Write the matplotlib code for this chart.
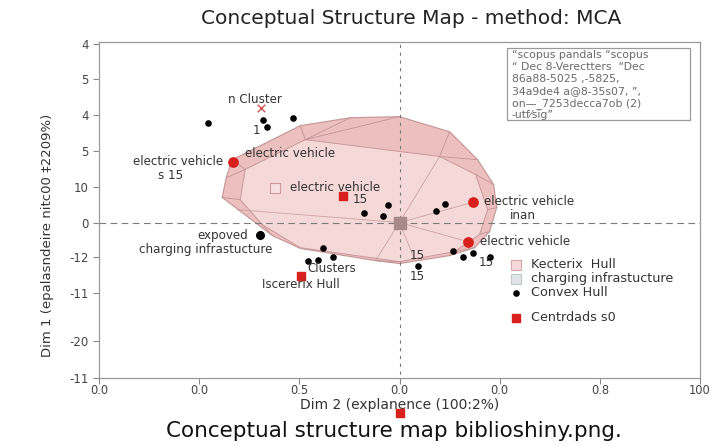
import matplotlib
matplotlib.use("Agg")
import matplotlib.pyplot as plt
from matplotlib.patches import Polygon, Rectangle

plt.rcParams["font.family"] = ["DejaVu Sans"]

# ---- axis ticks -------------------------------------------------------------
x_tick_pos = [-3, -2, -1, 0, 1, 2, 3]
x_tick_labels = ["0.0", "0.0", "0.5", "0.0", "0.0", "0.8", "100"]
y_tick_pos = [4.97, 4.0, 3.0, 2.0, 1.0, 0.0, -0.97, -1.97, -3.31, -4.33]
y_tick_labels = ["4", "5", "4", "5", "10", "0", "-12", "-11", "-20", "-11"]

# ---- documents (black points) -----------------------------------------------
doc_x = [-1.91, -1.36, -1.32, -1.06, -0.11, -0.35, -0.16, 0.45, 0.36,
         -0.76, -0.91, -0.81, -0.66, 0.18, 0.53, 0.63, 0.73, 0.90]
doc_y = [2.76, 2.87, 2.65, 2.92, 0.50, 0.28, 0.19, 0.53, 0.31,
         -0.72, -1.06, -1.03, -0.95, -1.20, -0.78, -0.95, -0.86, -0.95]
big_doc_x = [-1.39]
big_doc_y = [-0.36]

# ---- highlighted terms (red circles) and centroids (red squares) -------------
term_x = [-1.66, 0.73, 0.68]
term_y = [1.70, 0.56, -0.53]
centroid_x = [-0.56, -0.98]
centroid_y = [0.75, -1.50]
cluster_mark_x = [-1.38]
cluster_mark_y = [3.18]

# ---- convex hull of the cluster -----------------------------------------------
hull_outer_x = [-1.67, -0.99, -0.49, 0.00, 0.50, 0.78, 0.94, 0.97, 0.90,
                0.75, 0.50, 0.00, -0.24, -0.99, -1.27, -1.77, -1.73]
hull_outer_y = [1.75, 2.70, 2.92, 2.95, 2.53, 1.75, 1.06, 0.42, -0.25,
                -0.70, -0.92, -1.14, -1.06, -0.72, -0.36, 0.70, 1.25]
hull_inner_x = [-1.54, -0.94, 0.40, 0.76, 0.88, 0.80, 0.55, 0.00, -0.99,
                -1.37, -1.59]
hull_inner_y = [1.48, 2.31, 1.84, 1.34, 0.36, -0.33, -0.81, -1.09, -0.70,
                -0.06, 0.64]
facet_ends_x = [-1.62, -0.24, 0.14, 0.73, 0.68, 0.40]
facet_ends_y = [0.36, -1.06, -0.95, 0.56, -0.53, 1.84]

# ---- point labels --------------------------------------------------------------
labels = [
    ("n Cluster", -1.44, 3.43, "center"),
    ("1", -1.43, 2.56, "center"),
    ("electric vehicle", -1.76, 1.71, "right"),
    ("s 15", -2.29, 1.31, "center"),
    ("electric vehicle", -1.54, 1.92, "left"),
    ("electric vehicle", -1.09, 0.97, "left"),
    ("15", -0.47, 0.64, "left"),
    ("expoved", -1.51, -0.36, "right"),
    ("charging infrastucture", -1.27, -0.74, "right"),
    ("Clusters", -0.92, -1.28, "left"),
    ("Iscererix Hull", -1.37, -1.73, "left"),
    ("15", 0.18, -0.92, "center"),
    ("15", 0.18, -1.50, "center"),
    ("electric vehicle", 0.84, 0.60, "left"),
    ("inan", 1.23, 0.20, "center"),
    ("electric vehicle", 0.80, -0.53, "left"),
    ("15", 0.87, -1.11, "center"),
]

# ---- note box ---------------------------------------------------------------------
note_lines = [
    "\u201cscopus pandals \u201cscopus",
    "\u201c Dec 8-Verectters  \u201cDec",
    "86a88-5025 ,-5825,",
    "34a9de4 a@8-35s07, \u201d,",
    "on\u2014_7253decca7ob (2)",
    "-utf\u2044sig\u201d",
]
note_line_y = [4.68, 4.34, 4.00, 3.66, 3.32, 2.99]

# ---- legend -------------------------------------------------------------------------
legend_names = ["Kecterix  Hull", "charging infrastucture", "Convex Hull", "Centrdads s0"]
legend_y = [-1.18, -1.57, -1.96, -2.65]

RED = "#d8201c"
PINK_DARK = "#ebb9b9"
PINK_LIGHT = "#f7dcdc"
EDGE = "#c49494"
GREY_TXT = "#333333"

fig = plt.figure(figsize=(7.23, 4.47), dpi=100)
ax = fig.add_axes([99 / 723, 1 - 378 / 447, 601 / 723, 336 / 447])
ax.set_xlim(-3, 3)
ax.set_ylim(-4.33, 5.03)

# hull: outer band, front face and facet edges
ax.add_patch(Polygon(list(zip(hull_outer_x, hull_outer_y)), closed=True,
                     facecolor=PINK_DARK, edgecolor=EDGE, lw=0.9, alpha=0.9, zorder=1))
ax.add_patch(Polygon(list(zip(hull_inner_x, hull_inner_y)), closed=True,
                     facecolor=PINK_LIGHT, edgecolor=EDGE, lw=0.7, alpha=0.9, zorder=1.2))
for ox, oy in zip(hull_outer_x, hull_outer_y):
    # connect each outer vertex to the nearest inner vertex
    d = [(ix - ox) ** 2 + (iy - oy) ** 2 for ix, iy in zip(hull_inner_x, hull_inner_y)]
    k = d.index(min(d))
    ax.plot([ox, hull_inner_x[k]], [oy, hull_inner_y[k]], color=EDGE, lw=0.6, zorder=1.3)
for fx, fy in zip(facet_ends_x, facet_ends_y):
    ax.plot([0, fx], [0, fy], color=EDGE, lw=0.6, alpha=0.8, zorder=1.3)

# reference lines
ax.axhline(0, color="#7a7a7a", lw=0.8, ls=(0, (6, 4)), zorder=1.5)
ax.plot([0, 0], [-4.45, 5.03], color="#7a7a7a", lw=0.8, ls=(0, (3, 4)), zorder=1.5,
        clip_on=False)

# points
ax.scatter(doc_x, doc_y, s=14, color="black", zorder=3)
ax.scatter(big_doc_x, big_doc_y, s=30, color="black", zorder=3)
ax.scatter(term_x, term_y, s=45, color=RED, zorder=3)
ax.scatter(centroid_x, centroid_y, s=32, marker="s", color=RED, zorder=3)
ax.scatter(cluster_mark_x, cluster_mark_y, s=30, marker="x", color="#d05050", lw=1.0, zorder=3)
ax.scatter([0], [0], s=70, marker="s", color="#a88a8a", zorder=3)
ax.scatter([0], [-5.3], s=32, marker="s", color=RED, zorder=3, clip_on=False)

# small open square next to the central label
ax.scatter([-1.24], [0.97], s=60, marker="s", facecolor="#f7e0e0",
           edgecolor="#d09a9a", lw=0.8, zorder=3)

for text, x, y, ha in labels:
    ax.text(x, y, text, ha=ha, va="center", fontsize=8.6, color=GREY_TXT, zorder=4)

# note box in the upper right corner
box = Rectangle((1.07, 2.87), 1.83, 1.98, facecolor="white", edgecolor="#9a9a9a",
                lw=0.9, zorder=4)
ax.add_patch(box)
for line, y in zip(note_lines, note_line_y):
    t = ax.text(1.12, y, line, ha="left", va="center", fontsize=7.8, color="#6a6a6a",
                zorder=5)
    t.set_clip_path(box)

# legend entries
ax.scatter([1.16], [legend_y[0]], s=55, marker="s", facecolor="#f6dada",
           edgecolor="#d8a8a8", lw=0.8, zorder=4)
ax.scatter([1.16], [legend_y[1]], s=55, marker="s", facecolor="#e0e6e8",
           edgecolor="#c0c8cc", lw=0.8, zorder=4)
ax.scatter([1.16], [legend_y[2]], s=14, color="black", zorder=4)
ax.scatter([1.16], [legend_y[3]], s=30, marker="s", color=RED, zorder=4)
for name, y in zip(legend_names, legend_y):
    ax.text(1.31, y, name, ha="left", va="center", fontsize=9.2, color=GREY_TXT, zorder=4)

# ticks and frame
ax.set_xticks(x_tick_pos)
ax.set_xticklabels(x_tick_labels)
ax.set_yticks(y_tick_pos)
ax.set_yticklabels(y_tick_labels)
ax.tick_params(axis="both", labelsize=8.5, labelcolor="#444444", color="#888888",
               length=4, width=0.8)
ax.tick_params(axis="x", pad=0.5, labelsize=8.3)
for sp in ax.spines.values():
    sp.set_color("#9a9a9a")
    sp.set_linewidth(0.9)

ax.set_xlabel("Dim 2 (explanence (100:2%)", fontsize=10, color="#333333")
ax.xaxis.set_label_coords(0.5, -0.061)
fig.text(47 / 723, 1 - 235 / 447, "Dim 1 (epalasndeire nitc00 \u20212209%)", rotation=90,
         ha="center", va="center", fontsize=9.5, color="#333333")

fig.text(411 / 723, 1 - 18 / 447, "Conceptual Structure Map - method: MCA",
         ha="center", va="center", fontsize=14.5, color="#222222")
fig.text(394 / 723, 1 - 431 / 447, "Conceptual structure map biblioshiny.png.",
         ha="center", va="center", fontsize=15.5, color="#111111")

fig.savefig("out.png", dpi=100, facecolor="white")
